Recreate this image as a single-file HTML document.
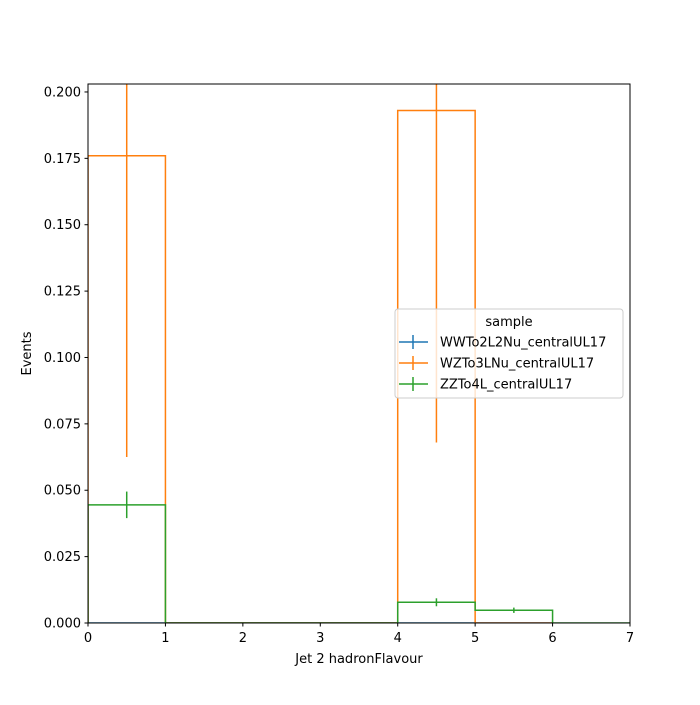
<!DOCTYPE html>
<html><head><meta charset="utf-8"><style>body{margin:0;background:#fff}svg text{font-family:"DejaVu Sans","Liberation Sans",sans-serif;font-size:13px;fill:#000}</style></head>
<body>
<svg id="c" width="700" height="700" xmlns="http://www.w3.org/2000/svg"></svg>
<script>
const binEdges=[0,1,2,3,4,5,6,7];
const seriesNames=["WWTo2L2Nu_centralUL17","WZTo3LNu_centralUL17","ZZTo4L_centralUL17"];
const colors=["#1f77b4","#ff7f0e","#2ca02c"];
const wwValues=[0,0,0,0,0,0];
const wwErrors=[0,0,0,0,0,0];
const wzValues=[0.176,0,0,0,0.193,0];
const wzErrors=[0.1135,0,0,0,0.125,0];
const zzValues=[0.0445,0,0,0,0.0078,0.0048,0];
const zzErrors=[0.005,0,0,0,0.0015,0.001,0];
const yTicks=[0,0.025,0.05,0.075,0.1,0.125,0.15,0.175,0.2];
const xTicks=[0,1,2,3,4,5,6,7];
const L=88,R=630,T=84,B=623,ymax=0.203;
const X=v=>L+(R-L)*v/7, Y=v=>B-(B-T)*v/ymax;
const svg=document.getElementById('c');const NS="http://www.w3.org/2000/svg";
function mk(t,a,p){const e=document.createElementNS(NS,t);for(const k in a)e.setAttribute(k,a[k]);(p||svg).appendChild(e);return e;}
const clip=mk('clipPath',{id:'cp'});mk('rect',{x:L,y:T,width:R-L,height:B-T},clip);
const g=mk('g',{'clip-path':'url(#cp)'});
[[wwValues,wwErrors],[wzValues,wzErrors],[zzValues,zzErrors]].forEach((s,i)=>{
 const [v,er]=s;let d=`M${X(0)},${Y(0)}`;
 v.forEach((y,j)=>{d+=` L${X(binEdges[j])},${Y(y)} L${X(binEdges[j+1])},${Y(y)}`;});
 d+=` L${X(binEdges[v.length])},${Y(0)}`;
 const p=mk('path',{d:d,fill:'none',stroke:colors[i],'stroke-width':1.5},g);
 
 
 v.forEach((y,j)=>{if(er[j]>0){const cx=X(j+0.5);
  const e=mk('line',{x1:cx,x2:cx,y1:Y(y-er[j]),y2:Y(y+er[j]),stroke:colors[i],'stroke-width':1.5},g);
  
  }});
});
mk('rect',{x:L,y:T,width:R-L,height:B-T,fill:'none',stroke:'#000','stroke-width':1});
yTicks.forEach(t=>{mk('line',{x1:L-3.5,x2:L,y1:Y(t),y2:Y(t),stroke:'#000'});
 const tx=mk('text',{x:L-7,y:Y(t)+4.5,'text-anchor':'end'});tx.textContent=t.toFixed(3);
 
 });
xTicks.forEach(t=>{mk('line',{x1:X(t),x2:X(t),y1:B,y2:B+3.5,stroke:'#000'});
 const tx=mk('text',{x:X(t),y:B+19,'text-anchor':'middle'});tx.textContent=t;
 
 });
const xt=mk('text',{x:(L+R)/2,y:663,'text-anchor':'middle'});xt.textContent='Jet 2 hadronFlavour';


const yt=mk('text',{x:31,y:(T+B)/2,'text-anchor':'middle',transform:`rotate(-90 31 ${(T+B)/2})`});yt.textContent='Events';


const lg=mk('g',{});
mk('rect',{x:395,y:309,width:228,height:89,rx:3,fill:'#fff','fill-opacity':0.8,stroke:'#ccc'},lg);
const lt=mk('text',{x:509,y:326,'text-anchor':'middle'},lg);lt.textContent='sample';
seriesNames.forEach((n,i)=>{const y=342+i*21;
 mk('line',{x1:399,x2:428,y1:y,y2:y,stroke:colors[i],'stroke-width':1.5},lg);
 mk('line',{x1:413,x2:413,y1:y-7,y2:y+7,stroke:colors[i],'stroke-width':1.5},lg);
 const t=mk('text',{x:440,y:y+4.5},lg);t.textContent=n;
 
 });
</script>
</body></html>
